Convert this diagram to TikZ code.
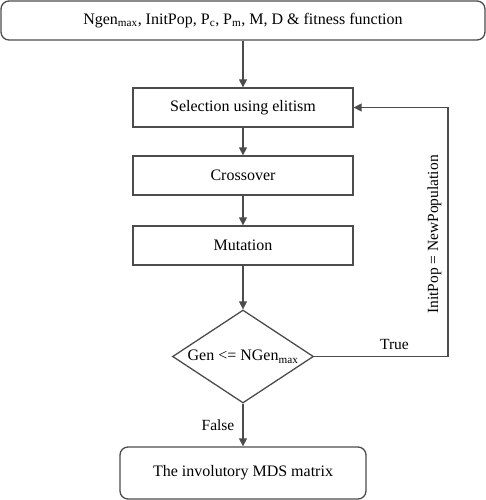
\documentclass[tikz,border=0pt]{standalone}
\usepackage{fontspec}
\setmainfont{Liberation Serif}
\usetikzlibrary{shapes.geometric,arrows.meta}
\begin{document}
\begin{tikzpicture}[x=1pt,y=-1pt,
  line/.style={draw=black!70,line width=1.3pt},
  arr/.style={line,-{Triangle[length=8pt,width=8pt]}},
  stepbox/.style={line,rectangle,minimum width=220pt,minimum height=39pt,inner sep=0pt,font=\fontsize{16}{18}\selectfont},
  roundbox/.style={stepbox,rounded corners=8pt},
  decision/.style={line,diamond,minimum width=141pt,minimum height=93pt,inner sep=0pt,aspect=1.5,font=\fontsize{16}{18}\selectfont},
  lbl/.style={font=\fontsize{15.5}{18}\selectfont,inner sep=0pt}]
\useasboundingbox (0,0) rectangle (486,500);
\node[roundbox,minimum width=484pt] (init) at (243,20.5) {Ngen\textsubscript{max}, InitPop, P\textsubscript{c}, P\textsubscript{m}, M, D \& fitness function};
\node[stepbox] (sel) at (243,107.5) {Selection using elitism};
\node[stepbox] (cross) at (243,175.5) {Crossover};
\node[stepbox] (mut) at (243,245.5) {Mutation};
\node[decision] (dec) at (243,356.5) {Gen <= NGen\textsubscript{max}};
\node[roundbox,minimum width=246pt,minimum height=52pt] (out) at (243,473) {The involutory MDS matrix};
\coordinate (c1) at (448,356.5);
\coordinate (c2) at (448,107.5);
\draw[arr] (init) -- (sel);
\draw[arr] (sel) -- (cross);
\draw[arr] (cross) -- (mut);
\draw[arr] (mut) -- (dec.north);
\draw[arr] (dec.south) -- node[lbl,left=8pt] {False} (out);
\draw[line] (dec.east) -- node[lbl,above=6pt,pos=0.6] {True} (c1);
\draw[arr] (c1) -- node[lbl,rotate=90,above=6pt,pos=0.49] {InitPop = NewPopulation} (c2) -- (sel.east);
\end{tikzpicture}
\end{document}
